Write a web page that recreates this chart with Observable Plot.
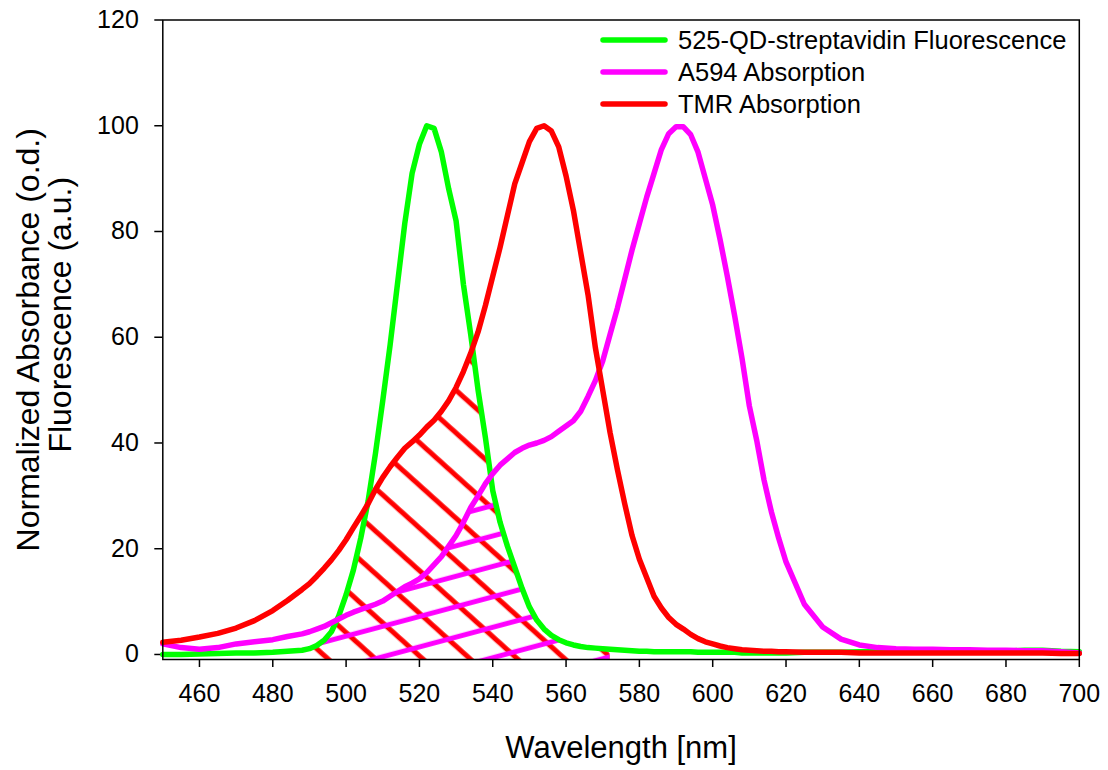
<!DOCTYPE html>
<html>
<head>
<meta charset="utf-8">
<script src="https://cdn.jsdelivr.net/npm/d3@7"></script>
<script src="https://cdn.jsdelivr.net/npm/@observablehq/plot@0.6"></script>
<style>
  html, body { margin: 0; padding: 0; background: #fff; }
  #chart { position: relative; width: 1108px; height: 770px; }
  #chart svg { display: block; }
</style>
</head>
<body>
<div id="chart"></div>
<script>
// ---- data ----
const wavelength = [450,455,460,465,470,475,480,484,488,
  490,492,494,496,498,500,502,504,506,508,510,512,514,516,518,520,522,524,526,528,530,
  532,534,536,538,540,542,544,546,548,550,552,554,556,558,560,562,564,566,568,570,
  572,574,576,578,580,582,584,586,588,590,592,594,596,598,600,602,604,606,608,610,
  612,614,616,618,620,
  625,630,635,640,645,650,655,660,665,670,675,680,685,690,695,700];

const qdFluorescence = [0.0,0.0,0.1,0.2,0.3,0.3,0.4,0.6,0.8,
  1.1,1.7,2.7,4.3,7.3,11.3,16,22,29,38,48,58.5,70,81.5,91,96.5,100,99.5,95,88,82,
  70,60.5,50,41,31,25,20.5,16.5,12.5,9,6.5,4.8,3.6,2.8,2.2,1.8,1.5,1.3,1.2,1.1,
  1.0,0.9,0.8,0.7,0.6,0.6,0.5,0.5,0.5,0.5,0.5,0.5,0.4,0.4,0.4,0.4,0.4,0.4,0.3,0.3,
  0.3,0.3,0.3,0.3,0.3,
  0.4,0.4,0.4,0.5,0.5,0.5,0.6,0.5,0.6,0.6,0.7,0.6,0.8,0.8,0.6,0.5];

const a594Absorption = [2.0,1.3,1.0,1.3,2.0,2.4,2.8,3.4,3.9,
  4.3,4.8,5.3,6.0,6.7,7.4,8.0,8.5,9.0,9.5,10.1,11.0,11.9,12.8,13.5,14.3,15.5,17.0,18.5,20.5,22.5,
  25.0,27.8,30.0,32.3,34.2,35.8,37.0,38.2,39.0,39.6,40.0,40.5,41.2,42.2,43.2,44.2,46.0,48.8,51.8,55.5,
  60.5,65.5,71.0,76.5,81.5,86.5,91.0,95.5,98.5,99.8,99.8,98.3,95.0,90.0,85.0,78.5,71.5,64.0,56.0,47.0,
  40.5,33.0,27.0,22.0,17.5,
  9.5,5.2,2.9,1.8,1.3,1.1,1.0,1.0,0.9,0.9,0.8,0.8,0.7,0.7,0.5,0.3];

const tmrAbsorption = [2.3,2.7,3.3,4.0,5.0,6.4,8.3,10.2,12.3,
  13.4,14.8,16.3,17.9,19.7,21.7,24.0,26.2,28.5,31.2,33.5,35.5,37.3,39.0,40.2,41.5,43.0,44.3,46.0,48.0,50.5,
  53.5,57.0,61.0,66.0,71.5,77.0,83.0,89.0,93.0,97.0,99.5,100,99.0,96.0,90.5,84.0,76.0,68.0,58.0,50.0,
  42.0,35.0,28.5,22.5,18.0,14.5,11.0,8.8,7.0,5.7,4.8,3.8,3.0,2.4,2.0,1.6,1.3,1.1,0.9,0.8,
  0.7,0.6,0.6,0.5,0.5,
  0.4,0.4,0.4,0.3,0.3,0.3,0.3,0.3,0.3,0.3,0.3,0.3,0.3,0.3,0.2,0.2];

const seriesNames = ["525-QD-streptavidin Fluorescence", "A594 Absorption", "TMR Absorption"];
const seriesColors = ["#00ff00", "#ff00ff", "#ff0000"];
const xTicks = [460, 480, 500, 520, 540, 560, 580, 600, 620, 640, 660, 680, 700];
const yTicks = [0, 20, 40, 60, 80, 100, 120];
const xLabel = "Wavelength [nm]";
const yLabelLines = ["Normalized Absorbance (o.d.)", "Fluorescence (a.u.)"];

// ---- layout ----
const FONT = "'Liberation Sans', Arial, Helvetica, sans-serif";
const yMin = -0.95;
const hatchThreshold = 1;

const rows = wavelength.map((w, i) => ({
  w, g: qdFluorescence[i], m: a594Absorption[i], r: tmrAbsorption[i]
}));
const overlap = (a, b) => { const v = Math.min(a, b); return v >= hatchThreshold ? v : NaN; };

const lineOpts = { strokeWidth: 5.5, strokeLinejoin: "round", strokeLinecap: "round" };

const svg = Plot.plot({
  width: 1108,
  height: 770,
  marginLeft: 162.3,
  marginRight: 29.2,
  marginTop: 19.5,
  marginBottom: 111,
  style: { fontFamily: FONT, fontSize: "25px", color: "black", background: "white" },
  x: { domain: [450, 700], ticks: xTicks, tickSize: 8, tickPadding: 17, label: null },
  y: { domain: [yMin, 120], ticks: yTicks, tickSize: 8, tickPadding: 16, label: null },
  marks: [
    Plot.areaY(rows, { x: "w", y1: yMin, y2: d => overlap(d.g, d.r), fill: "url(#hatch-red)" }),
    Plot.areaY(rows, { x: "w", y1: yMin, y2: d => overlap(d.g, d.m), fill: "url(#hatch-magenta)" }),
    Plot.line(rows, { x: "w", y: "g", stroke: seriesColors[0], ...lineOpts }),
    Plot.line(rows, { x: "w", y: "m", stroke: seriesColors[1], ...lineOpts }),
    Plot.line(rows, { x: "w", y: "r", stroke: seriesColors[2], ...lineOpts }),
    Plot.frame({ stroke: "black", strokeWidth: 1.5 }),
    Plot.text([xLabel], { frameAnchor: "bottom", dy: 89, textAnchor: "middle", lineAnchor: "middle", fontSize: 31, fill: "black" }),
    Plot.text([yLabelLines[0]], { frameAnchor: "left", dx: -134, rotate: -90, textAnchor: "middle", lineAnchor: "middle", fontSize: 32, fill: "black" }),
    Plot.text([yLabelLines[1]], { frameAnchor: "left", dx: -102, dy: -25, rotate: -90, textAnchor: "middle", lineAnchor: "middle", fontSize: 32, fill: "black" })
  ]
});

// hatch patterns (screen-space stripes)
const defs = d3.select(svg).insert("defs", ":first-child");
function stripes(id, color, angle, spacing, phase) {
  const p = defs.append("pattern")
    .attr("id", id)
    .attr("patternUnits", "userSpaceOnUse")
    .attr("width", 20)
    .attr("height", spacing)
    .attr("patternTransform", `rotate(${angle})`);
  [phase - spacing, phase, phase + spacing].forEach(y => {
    p.append("line").attr("x1", -2).attr("x2", 22).attr("y1", y).attr("y2", y)
      .attr("stroke", color).attr("stroke-width", 5);
  });
}
stripes("hatch-red", seriesColors[2], 42, 31.7, 16.6);
stripes("hatch-magenta", seriesColors[1], -15, 29.4, 27.8);

// thicker tick marks
d3.select(svg).selectAll("g[aria-label$='tick'] path, g[aria-label$='axis'] path").attr("stroke-width", 1.5);

// legend
const legendX1 = 603, legendX2 = 665, legendTextX = 678, legendTop = 40, legendStep = 32;
const lg = d3.select(svg).append("g")
  .attr("font-family", FONT).attr("font-size", 25.5).attr("text-anchor", "start");
seriesNames.forEach((name, i) => {
  const y = legendTop + i * legendStep;
  lg.append("line").attr("x1", legendX1).attr("x2", legendX2).attr("y1", y).attr("y2", y)
    .attr("stroke", seriesColors[i]).attr("stroke-width", 5.5).attr("stroke-linecap", "round");
  lg.append("text").attr("x", legendTextX).attr("y", y).attr("dy", "0.35em")
    .attr("text-anchor", "start").attr("fill", "black").text(name);
});

document.getElementById("chart").appendChild(svg);
</script>
</body>
</html>
